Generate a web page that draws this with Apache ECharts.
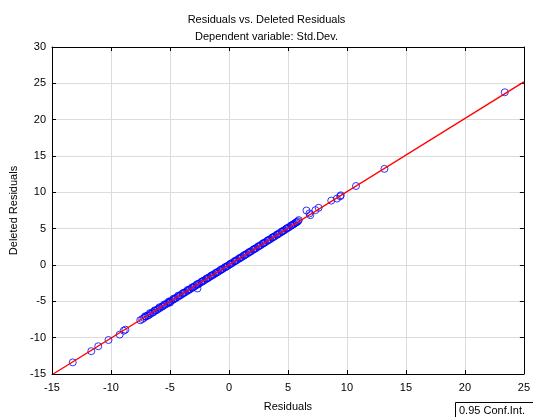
<!DOCTYPE html>
<html><head><meta charset="utf-8">
<script src="https://cdn.jsdelivr.net/npm/echarts@6/dist/echarts.min.js"></script>
<style>html,body{margin:0;padding:0;background:#fff}#c{width:533px;height:417px}</style>
</head><body><div id="c"></div>
<script>
const titleText = 'Residuals vs. Deleted Residuals';
const subtitleText = 'Dependent variable: Std.Dev.';
const xName = 'Residuals';
const yName = 'Deleted Residuals';
const legendText = '0.95 Conf.Int.';
const xTicks = [-15, -10, -5, 0, 5, 10, 15, 20, 25];
const yTicks = [-15, -10, -5, 0, 5, 10, 15, 20, 25, 30];
// observed residuals and deleted residuals
const residuals = [
 -13.24,-11.67,-11.08,-10.21,-9.26,-8.92,-8.78,
 -7.52,-7.35,-7.20,-7.05,-6.90,-6.80,-6.65,-6.50,-6.40,-6.25,-6.10,-6.00,-5.85,-5.70,-5.60,-5.45,-5.30,-5.20,-5.05,-5.00,
 -4.90,-4.75,-4.60,-4.50,-4.35,-4.20,-4.10,-3.95,-3.80,-3.70,-3.55,-3.40,-3.30,-3.15,-3.00,-2.90,-2.75,-2.67,-2.60,-2.50,
 -2.35,-2.20,-2.10,-1.95,-1.80,-1.70,-1.55,-1.40,-1.30,-1.15,-1.00,-0.90,-0.75,-0.60,-0.50,-0.35,-0.20,-0.10,0.05,0.20,
 0.30,0.45,0.60,0.70,0.85,1.00,1.10,1.25,1.40,1.50,1.65,1.80,1.90,2.05,2.20,2.30,2.45,2.60,2.70,2.85,3.00,3.10,3.25,3.40,
 3.50,3.65,3.80,3.90,4.05,4.20,4.30,4.45,4.60,4.70,4.85,5.00,5.10,5.25,5.40,5.50,5.60,5.75,5.85,5.92,
 6.57,6.82,6.90,7.33,7.60,8.67,9.15,9.43,9.48,10.77,13.18,23.38,
 -7.10,-6.70,-6.30,-5.90,-5.50,-5.10,-4.70,-4.30,-3.90,-3.50,-3.10,-2.70,-2.30,-1.90,-1.50,-1.10,-0.70,-0.30,0.10,0.50,
 0.90,1.30,1.70,2.10,2.50,2.90,3.30,3.70,4.10,4.50,4.90,5.30,5.70
];
const deletedResiduals = [
 -13.40,-11.86,-11.18,-10.32,-9.58,-9.04,-8.90,
 -7.60,-7.45,-7.28,-7.10,-6.98,-6.90,-6.72,-6.55,-6.50,-6.30,-6.18,-6.05,-5.92,-5.75,-5.68,-5.50,-5.36,-5.24,-5.10,-5.18,
 -4.95,-4.80,-4.66,-4.54,-4.40,-4.24,-4.15,-3.99,-3.84,-3.73,-3.59,-3.44,-3.33,-3.18,-3.03,-2.92,-2.78,-3.23,-2.62,-2.52,
 -2.37,-2.22,-2.12,-1.97,-1.82,-1.71,-1.56,-1.41,-1.31,-1.16,-1.01,-0.90,-0.76,-0.60,-0.50,-0.35,-0.20,-0.10,0.05,0.20,
 0.30,0.46,0.61,0.71,0.86,1.01,1.11,1.26,1.42,1.52,1.67,1.82,1.93,2.08,2.23,2.33,2.49,2.64,2.74,2.90,3.05,3.15,3.31,3.46,
 3.56,3.72,3.87,3.98,4.13,4.28,4.39,4.54,4.70,4.80,4.96,5.12,5.22,5.38,5.54,5.64,5.75,5.91,6.02,6.18,
 7.50,7.09,6.86,7.55,7.87,8.86,9.14,9.45,9.59,10.87,13.23,23.77,
 -7.05,-6.62,-6.24,-5.82,-5.44,-5.02,-4.64,-4.22,-3.85,-3.43,-3.06,-2.64,-2.26,-1.86,-1.46,-1.07,-0.66,-0.27,0.14,0.55,
 0.95,1.36,1.77,2.17,2.58,2.99,3.40,3.81,4.22,4.63,5.04,5.45,5.86
];
// fitted line endpoints
const fitX = [-14.9, 25];
const fitY = [-15, 25.2];

const points = residuals.map((x, i) => [x, deletedResiduals[i]]);
const fitLine = fitX.map((x, i) => [x, fitY[i]]);
const font = 'Liberation Sans, Arial, sans-serif';

const chart = echarts.init(document.getElementById('c'));
const frameAxis = {
  axisLine: { show: true, onZero: false, lineStyle: { color: '#000', width: 1 } },
  axisTick: { show: true, inside: true, length: 4, lineStyle: { color: '#000' } },
  axisLabel: { show: false },
  splitLine: { show: false }
};
chart.setOption({
  animation: false,
  backgroundColor: '#fff',
  title: [
    { text: titleText, left: 'center', top: 9, textStyle: { fontFamily: font, fontSize: 11, fontWeight: 'normal', color: '#000' } },
    { text: subtitleText, left: 'center', top: 26, textStyle: { fontFamily: font, fontSize: 11, fontWeight: 'normal', color: '#000' } }
  ],
  grid: { left: 51, right: 6, top: 47, bottom: 40, containLabel: false },
  xAxis: [
    {
      type: 'value', min: -15, max: 25, interval: 5, position: 'bottom',
      name: xName, nameLocation: 'middle', nameGap: 27,
      nameTextStyle: { fontFamily: font, fontSize: 11, color: '#000' },
      axisLine: { show: true, onZero: false, lineStyle: { color: '#000' } },
      axisTick: { show: true, inside: true, length: 4, lineStyle: { color: '#000' } },
      axisLabel: { fontFamily: font, fontSize: 11, color: '#000', margin: 8,
        formatter: v => xTicks.includes(v) ? String(v) : '' },
      splitLine: { show: true, lineStyle: { color: '#dcdcdc', width: 1 } }
    },
    Object.assign({ type: 'value', min: -15, max: 25, interval: 5, position: 'top' }, frameAxis)
  ],
  yAxis: [
    {
      type: 'value', min: -15, max: 30, interval: 5, position: 'left',
      name: yName, nameLocation: 'middle', nameGap: 33,
      nameTextStyle: { fontFamily: font, fontSize: 11, color: '#000' },
      axisLine: { show: true, onZero: false, lineStyle: { color: '#000' } },
      axisTick: { show: true, inside: true, length: 4, lineStyle: { color: '#000' } },
      axisLabel: { fontFamily: font, fontSize: 11, color: '#000', margin: 6,
        formatter: v => yTicks.includes(v) ? String(v) : '' },
      splitLine: { show: true, lineStyle: { color: '#dcdcdc', width: 1 } }
    },
    Object.assign({ type: 'value', min: -15, max: 30, interval: 5, position: 'right' }, frameAxis)
  ],
  series: [
    {
      type: 'scatter', data: points, symbol: 'circle', symbolSize: 7,
      itemStyle: { color: 'rgba(0,0,0,0)', borderColor: '#0000ff', borderWidth: 1 },
      z: 2
    },
    {
      type: 'line', data: fitLine, symbol: 'none',
      lineStyle: { color: '#ff0000', width: 1.4 }, z: 3
    }
  ],
  graphic: [
    { type: 'rect', shape: { x: 455.5, y: 402.5, width: 90, height: 30 },
      style: { fill: '#fff', stroke: '#000', lineWidth: 1 } },
    { type: 'text', x: 459, y: 405, style: { text: legendText, fontFamily: font, fontSize: 11, fill: '#000' } }
  ]
});
</script></body></html>
